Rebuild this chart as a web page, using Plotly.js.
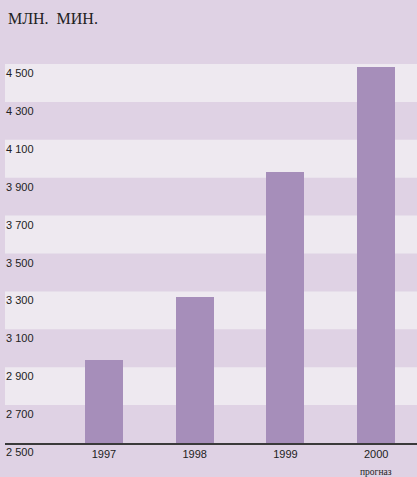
<!DOCTYPE html>
<html><head><meta charset="utf-8">
<script src="https://cdn.plot.ly/plotly-3.0.1.min.js"></script>
<style>html,body{margin:0;padding:0;background:#DFD2E4;}</style>
</head><body><div id="chart" style="width:417px;height:477px;"></div>
<script>
const years = ['1997', '1998', '1999', '2000'];
const values = [2940, 3270, 3930, 4485];
const yTicks = [2500, 2700, 2900, 3100, 3300, 3500, 3700, 3900, 4100, 4300, 4500];
const yTickLabels = ['2 500', '2 700', '2 900', '3 100', '3 300', '3 500', '3 700', '3 900', '4 100', '4 300', '4 500'];
const titleText = 'МЛН.  МИН.';
const forecastNote = 'прогназ';

const bg = '#DFD2E4', light = '#EEE9F0', barColor = '#A68EBA';

const shapes = [];
for (let i = 0; i < yTicks.length - 1; i++) {
  if (i % 2 === 1) {
    shapes.push({type: 'rect', xref: 'paper', yref: 'y', x0: 0, x1: 1,
      y0: yTicks[i], y1: yTicks[i + 1], fillcolor: light, line: {width: 0}, layer: 'below'});
  }
}

const annotations = yTicks.map((v, i) => ({
  xref: 'paper', yref: 'y', x: 0, y: v, text: yTickLabels[i], showarrow: false,
  xanchor: 'left', yanchor: 'top', yshift: -1, xshift: -1,
  font: {family: 'Liberation Sans, Arial, sans-serif', size: 11, color: '#222'}
}));
annotations.push({xref: 'x', yref: 'paper', x: years.length - 1, y: 0, xanchor: 'center', yanchor: 'top', yshift: -22,
  text: forecastNote, showarrow: false,
  font: {family: 'Liberation Serif, Times New Roman, serif', size: 9.5, color: '#222'}});

Plotly.newPlot('chart', [{
  type: 'bar', x: years, y: values, marker: {color: barColor}, width: 0.42, hoverinfo: 'skip'
}], {
  width: 417, height: 477,
  paper_bgcolor: bg, plot_bgcolor: bg,
  margin: {l: 5, r: 0, t: 64, b: 34},
  title: {text: titleText, x: 0.019, xanchor: 'left', y: 0.962, yanchor: 'middle',
    font: {family: 'Liberation Serif, Times New Roman, serif', size: 16, color: '#222'}},
  xaxis: {type: 'category', range: [-1.09, 3.45], showgrid: false, zeroline: false,
    showline: true, linecolor: '#3a3a3a', linewidth: 1.5, ticks: '',
    tickfont: {family: 'Liberation Sans, Arial, sans-serif', size: 11, color: '#222'}},
  yaxis: {range: [2500, 4500], showgrid: false, zeroline: false, showticklabels: false, ticks: ''},
  shapes: shapes, annotations: annotations, showlegend: false, bargap: 0
}, {displayModeBar: false, staticPlot: true});
</script></body></html>
